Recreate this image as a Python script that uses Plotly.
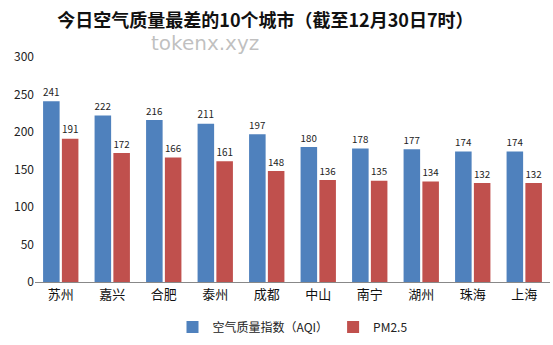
import plotly.graph_objects as go

cities = ["苏州", "嘉兴", "合肥", "泰州", "成都", "中山", "南宁", "湖州", "珠海", "上海"]
aqi = [241, 222, 216, 211, 197, 180, 178, 177, 174, 174]
pm25 = [191, 172, 166, 161, 148, 136, 135, 134, 132, 132]
y_ticks = [0, 50, 100, 150, 200, 250, 300]

FONT = "Noto Sans CJK SC"

fig = go.Figure()
fig.add_trace(go.Bar(
    x=cities, y=aqi, name="空气质量指数（AQI）",
    marker=dict(color="#4F81BD", line=dict(width=0)),
    text=aqi, textposition="outside", cliponaxis=False,
    textfont=dict(size=12, color="#222222", family=FONT),
))
fig.add_trace(go.Bar(
    x=cities, y=pm25, name="PM2.5",
    marker=dict(color="#C0504D", line=dict(width=0)),
    text=pm25, textposition="outside", cliponaxis=False,
    textfont=dict(size=12, color="#222222", family=FONT),
))

fig.update_layout(
    width=553, height=345,
    margin=dict(l=35, r=3, t=57, b=63),
    paper_bgcolor="white", plot_bgcolor="white",
    barmode="group", bargap=0.27, bargroupgap=0.12,
    font=dict(family=FONT, size=12, color="#222222"),
    title=dict(
        text="<b>今日空气质量最差的10个城市（截至12月30日7时）</b>",
        x=0.48, xanchor="center", y=0.94, yanchor="middle",
        font=dict(size=18, color="#111111", family=FONT),
    ),
    xaxis=dict(
        showline=True, linecolor="#888888", linewidth=1,
        ticks="", showgrid=False,
        tickfont=dict(size=13, color="#111111", family=FONT),
    ),
    yaxis=dict(
        range=[0, 300], tickvals=y_ticks, showgrid=False,
        showline=False, ticks="", zeroline=False,
        tickfont=dict(size=12, color="#222222", family=FONT),
    ),
    legend=dict(
        orientation="h", x=0.5, xanchor="center", y=-0.2, yanchor="middle",
        font=dict(size=12, color="#222222", family=FONT),
        itemwidth=30,
    ),
    annotations=[dict(
        text="tokenx.xyz", xref="paper", yref="paper",
        x=0.33, y=1.06, xanchor="center", yanchor="middle",
        showarrow=False, font=dict(size=20, color="rgba(150,150,150,0.6)", family="DejaVu Sans"),
    )],
)

fig.write_html("out.html")
